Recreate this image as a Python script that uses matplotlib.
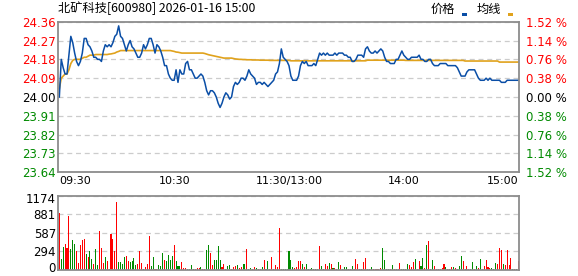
"""
分时图: 北矿科技 600980.
"""
import matplotlib
matplotlib.use('Agg')
import matplotlib.pyplot as plt
from matplotlib.patches import Rectangle
from matplotlib.transforms import ScaledTranslation

title = '北矿科技[600980] 2026-01-16 15:00'
pre_close = 24.00

# minute prices 09:30 ... 15:00 (241 points)
price = [
    24.00, 24.18, 24.14, 24.11, 24.11, 24.20, 24.29, 24.26, 24.21, 24.17,
    24.15, 24.17, 24.21, 24.28, 24.28, 24.25, 24.24, 24.22, 24.19, 24.19,
    24.18, 24.18, 24.17, 24.22, 24.25, 24.24, 24.25, 24.24, 24.26, 24.29,
    24.30, 24.34, 24.29, 24.28, 24.25, 24.22, 24.25, 24.27, 24.24, 24.23,
    24.21, 24.19, 24.19, 24.21, 24.25, 24.23, 24.25, 24.28, 24.28, 24.25,
    24.21, 24.25, 24.24, 24.22, 24.19, 24.15, 24.15, 24.11, 24.09, 24.08,
    24.08, 24.13, 24.07, 24.13, 24.11, 24.11, 24.16, 24.17, 24.13, 24.13,
    24.11, 24.09, 24.09, 24.10, 24.11, 24.10, 24.07, 24.03, 24.01, 24.03,
    24.03, 24.02, 24.00, 23.97, 23.95, 23.97, 24.00, 24.02, 24.01, 23.99,
    24.00, 24.05, 24.07, 24.06, 24.07, 24.09, 24.09, 24.08, 24.10, 24.13,
    24.11, 24.10, 24.09, 24.06, 24.07, 24.07, 24.06, 24.07, 24.06, 24.05,
    24.06, 24.07, 24.08, 24.11, 24.12, 24.16, 24.23, 24.19, 24.18, 24.17,
    24.15, 24.10, 24.08, 24.08, 24.08, 24.10, 24.15, 24.17, 24.16, 24.17,
    24.15, 24.15, 24.15, 24.16, 24.15, 24.18, 24.21, 24.20, 24.21, 24.20,
    24.21, 24.20, 24.20, 24.20, 24.21, 24.20, 24.21, 24.21, 24.21, 24.20,
    24.20, 24.19, 24.19, 24.17, 24.17, 24.18, 24.20, 24.20, 24.20, 24.19,
    24.23, 24.24, 24.22, 24.21, 24.21, 24.22, 24.21, 24.22, 24.23, 24.22,
    24.19, 24.17, 24.17, 24.16, 24.16, 24.16, 24.18, 24.18, 24.20, 24.22,
    24.20, 24.19, 24.18, 24.18, 24.19, 24.19, 24.19, 24.19, 24.20, 24.18,
    24.18, 24.17, 24.17, 24.18, 24.18, 24.16, 24.15, 24.15, 24.15, 24.16,
    24.16, 24.16, 24.16, 24.15, 24.15, 24.15, 24.15, 24.15, 24.14, 24.12,
    24.10, 24.10, 24.10, 24.12, 24.13, 24.13, 24.13, 24.13, 24.11, 24.09,
    24.08, 24.08, 24.08, 24.09, 24.08, 24.09, 24.08, 24.08, 24.08, 24.08,
    24.08, 24.07, 24.07, 24.07, 24.08, 24.08, 24.08, 24.08, 24.08, 24.08,
    24.08,
]

# average price line
avg = [
    24.04, 24.09, 24.10, 24.11, 24.11, 24.13, 24.16, 24.175, 24.18, 24.18,
    24.18, 24.18, 24.185, 24.19, 24.19, 24.195, 24.20, 24.20, 24.20, 24.203,
    24.203, 24.203, 24.203, 24.203, 24.203, 24.203, 24.205, 24.206, 24.208, 24.21,
    24.215, 24.218, 24.222, 24.222, 24.222, 24.222, 24.222, 24.222, 24.222, 24.222,
    24.222, 24.222, 24.222, 24.222, 24.222, 24.222, 24.222, 24.222, 24.222, 24.222,
    24.222, 24.222, 24.222, 24.222, 24.222, 24.222, 24.222, 24.222, 24.222, 24.22,
    24.218, 24.215, 24.214, 24.212, 24.21, 24.21, 24.21, 24.21, 24.21, 24.21,
    24.21, 24.21, 24.21, 24.21, 24.21, 24.21, 24.208, 24.205, 24.202, 24.20,
    24.198, 24.196, 24.194, 24.192, 24.19, 24.188, 24.186, 24.186, 24.186, 24.186,
    24.186, 24.184, 24.182, 24.181, 24.18, 24.18, 24.179, 24.179, 24.178, 24.178,
    24.178, 24.177, 24.177, 24.177, 24.177, 24.176, 24.176, 24.176, 24.176, 24.176,
    24.175, 24.175, 24.175, 24.175, 24.175, 24.175, 24.175, 24.175, 24.175, 24.175,
    24.175, 24.173, 24.173, 24.173, 24.173, 24.173, 24.173, 24.173, 24.173, 24.173,
    24.173, 24.173, 24.173, 24.173, 24.173, 24.173, 24.173, 24.173, 24.173, 24.173,
    24.173, 24.173, 24.173, 24.173, 24.173, 24.173, 24.173, 24.173, 24.173, 24.173,
    24.173, 24.173, 24.173, 24.173, 24.173, 24.173, 24.173, 24.173, 24.173, 24.173,
    24.173, 24.176, 24.176, 24.176, 24.176, 24.176, 24.176, 24.176, 24.176, 24.176,
    24.176, 24.176, 24.176, 24.176, 24.176, 24.176, 24.176, 24.176, 24.176, 24.176,
    24.176, 24.175, 24.175, 24.175, 24.175, 24.175, 24.175, 24.175, 24.175, 24.175,
    24.175, 24.175, 24.175, 24.175, 24.175, 24.175, 24.175, 24.175, 24.175, 24.175,
    24.175, 24.175, 24.175, 24.175, 24.175, 24.175, 24.175, 24.175, 24.175, 24.175,
    24.175, 24.175, 24.172, 24.172, 24.172, 24.172, 24.172, 24.172, 24.172, 24.172,
    24.172, 24.172, 24.172, 24.172, 24.172, 24.172, 24.172, 24.172, 24.172, 24.172,
    24.167, 24.167, 24.167, 24.167, 24.167, 24.167, 24.167, 24.167, 24.167, 24.167,
    24.167,
]

# minute volume (hands) and direction r = up, g = down
volume = [
    903, 175, 366, 414, 350, 860, 335, 478, 414, 303,
    106, 398, 478, 494, 255, 207, 303, 175, 96, 335,
    80, 621, 350, 106, 207, 143, 16, 573, 494, 303,
    1083, 127, 127, 96, 207, 223, 143, 127, 143, 191,
    80, 96, 303, 111, 16, 48, 96, 542, 64, 207,
    16, 16, 80, 64, 271, 159, 143, 239, 159, 223,
    398,
    143, 64, 64, 127, 32, 32, 16, 16, 80, 16,
    16, 32, 32, 48, 16, 16, 319, 398, 271, 80,
    159, 159, 382, 159, 48, 96, 16, 64, 80, 16,
    48, 64, 80, 32, 48, 96, 96, 335, 16, 32,
    16, 48, 32, 16, 16, 48, 159, 16, 143, 16,
    207, 16, 80, 48, 669, 16, 16, 16, 16,
    303, 159, 48, 32, 48, 143, 143, 96, 48, 96,
    16, 16, 32, 16, 16, 16, 382, 64, 16, 96,
    64, 111, 96, 32, 32, 16, 127, 80, 16, 48,
    48, 16, 16, 64, 16, 175, 96, 16, 16, 127,
    191, 16, 16, 48, 16, 16, 16, 16, 32, 350,
    159, 16, 16, 16, 80, 16, 16, 16, 111, 16,
    16, 16, 96, 80, 48, 127, 175, 16, 143, 64,
    191, 32, 398, 462, 16, 159, 64, 16, 16, 16,
    32, 96, 48, 16, 16, 48, 48, 32, 16, 64,
    223, 143, 16, 64, 16, 16, 127, 16, 64, 32,
    175, 16, 64, 159, 48, 32, 32, 16, 111, 96,
    350, 319, 96, 80, 319, 80, 191, 16, 16, 16,
    143,
]
vol_dir = (
    "rggrrrgggr" "rrrrgrggrg" "grrrgrgrrr" "rggggrrggg" "grrrgrrrgg"
    "rrgggrgggg" "r"
    "gggrrrgggg" "rrrgrrggrr" "ggggrrgggr" "rrgrrggrgg" "rrgrrgrggr"
    "rrrrrgggg"
    "gggrrrrgrg" "gggggrrggr" "rgrgrrgrgg" "grrgrrrggr" "rgggrrrrrg"
    "gggrgrgrrg"
    "gggrrrgrrg" "grgrggrrrr" "rrgrgrgrgg" "grgrrggrgr" "grrrrrgggr"
    "rrgrrrrgrg" "r"
)

price_ticks = [24.36, 24.27, 24.18, 24.09, 24.00, 23.91, 23.82, 23.73, 23.64]
pct_labels = ['1.52 %', '1.14 %', '0.76 %', '0.38 %', '0.00 %',
              '0.38 %', '0.76 %', '1.14 %', '1.52 %']
vol_ticks = [0, 294, 587, 881, 1174]
time_pos = [0, 60, 120, 180, 240]
time_labels = ['09:30', '10:30', '11:30/13:00', '14:00', '15:00']

RED = '#ff0000'
GREEN = '#008a00'
BLUE = '#0a4ea6'
GOLD = '#e0a21c'
FRAME = '#8c8c8c'
GRID = '#cccccc'


def level_color(v):
    """Цвет подписи по отношению к вчерашнему закрытию."""
    if v > pre_close + 1e-9:
        return RED
    if v < pre_close - 1e-9:
        return GREEN
    return 'black'


def style_axes(ax):
    for sp in ax.spines.values():
        sp.set_color(FRAME)
        sp.set_linewidth(1.3)
    ax.tick_params(length=0, labelsize=8.5, pad=1.5)
    ax.grid(True, color=GRID, linestyle=(0, (4, 3)), linewidth=0.9)
    ax.set_axisbelow(True)
    ax.set_xlim(-0.7, 240.2)
    ax.set_xticks([60, 120, 180], minor=True)
    ax.grid(True, which='minor', axis='x', color=GRID,
            linestyle=(0, (4, 3)), linewidth=0.9)
    ax.grid(False, which='major', axis='x')


def main():
    W, H = 578, 276
    fig = plt.figure(figsize=(W / 100, H / 100), dpi=100)

    ax = fig.add_axes([58 / W, 1 - 172.3 / H, 461 / W, 150.6 / H])
    style_axes(ax)
    x = list(range(len(price)))
    ax.plot(x, avg, color=GOLD, lw=1.2)
    ax.plot(x, price, color=BLUE, lw=1.1)
    ax.set_ylim(price_ticks[-1], price_ticks[0])
    ax.set_yticks(price_ticks)
    ax.set_yticklabels(['%.2f' % v for v in price_ticks])
    for lab, v in zip(ax.get_yticklabels(), price_ticks):
        lab.set_color(level_color(v))
    ax.set_xticks(time_pos)
    ax.set_xticklabels(time_labels)
    ax.tick_params(axis='x', labelsize=8, pad=3)
    xl = ax.get_xticklabels()
    xl[0].set_ha('left')
    xl[-1].set_ha('right')

    ax2 = ax.twinx()
    ax2.set_ylim(ax.get_ylim())
    ax2.set_yticks(price_ticks)
    ax2.set_yticklabels(pct_labels)
    ax2.tick_params(length=0, labelsize=8.5, pad=5)
    for sp in ax2.spines.values():
        sp.set_visible(False)
    for lab, v in zip(ax2.get_yticklabels(), price_ticks):
        lab.set_color(level_color(v))

    axv = fig.add_axes([58 / W, 1 - 270 / H, 461 / W, 74 / H])
    style_axes(axv)
    cols = [RED if d == 'r' else GREEN for d in vol_dir]
    axv.bar(range(len(volume)), volume, width=0.55, color=cols,
            linewidth=0, antialiased=False)
    axv.set_ylim(0, vol_ticks[-1])
    axv.set_yticks(vol_ticks)
    axv.set_xticks(time_pos)
    axv.set_xticklabels([])
    # keep the "0" inside the picture, nudge "1174" a bit down
    vl = axv.get_yticklabels()
    vl[0].set_transform(vl[0].get_transform()
                        + ScaledTranslation(0, 2.5 / 72, fig.dpi_scale_trans))
    vl[-1].set_transform(vl[-1].get_transform()
                         + ScaledTranslation(0, -1.5 / 72, fig.dpi_scale_trans))

    cjk = ['Noto Sans CJK SC', 'DejaVu Sans']
    fig.text(58 / W, 1 - 8.5 / H, title, family=cjk, fontsize=8.8,
             ha='left', va='center')
    fig.text(431 / W, 1 - 9 / H, '价格', family=cjk, fontsize=8.8,
             ha='left', va='center')
    fig.text(477 / W, 1 - 9 / H, '均线', family=cjk, fontsize=8.8,
             ha='left', va='center')
    fig.add_artist(Rectangle((462 / W, 1 - 15.5 / H), 5 / W, 2.2 / H,
                             transform=fig.transFigure, color=BLUE, lw=0))
    fig.add_artist(Rectangle((508 / W, 1 - 15.5 / H), 5 / W, 2.2 / H,
                             transform=fig.transFigure, color=GOLD, lw=0))

    fig.savefig('out.png', dpi=100)


if __name__ == '__main__':
    main()
